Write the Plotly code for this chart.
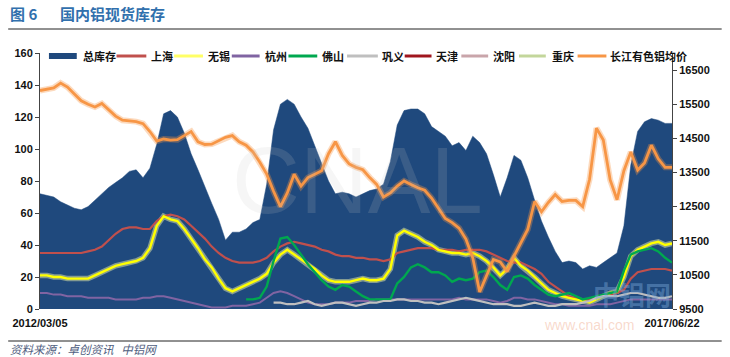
import plotly.graph_objects as go
import pandas as pd

# ---------------- data ----------------
start_date = "2012-03-05"
end_date = "2017-06-22"
n_points = 93
dates = pd.date_range(start_date, end_date, periods=n_points)

total_stock = [72, 71, 70, 67, 65, 63, 62, 64, 68, 72,
               76, 79, 82, 86, 87, 82, 88, 103, 122, 124,
               120, 110, 97, 87, 76, 66, 56, 43, 48, 48,
               50, 54, 56, 78, 112, 128, 131, 128, 120, 113,
               102, 91, 80, 72, 73, 72, 70, 72, 74, 75,
               78, 92, 115, 124, 125, 125, 122, 114, 111, 108,
               102, 104, 99, 108, 104, 97, 84, 70, 82, 96,
               93, 82, 68, 55, 45, 36, 29, 30, 29, 25,
               27, 26, 29, 32, 35, 52, 90, 111, 117, 119,
               118, 116, 116]

shanghai = [35, 35, 35, 35, 35, 35, 35, 36, 37, 39,
            43, 47, 50, 51, 51, 50, 50, 55, 58, 59,
            58, 56, 52, 48, 44, 39, 35, 32, 30, 29,
            29, 29, 30, 32, 36, 39, 41, 42, 41, 40,
            39, 37, 36, 34, 33, 33, 32, 32, 31, 31,
            30, 31, 35, 36, 37, 38, 38, 38, 37, 37,
            37, 36, 37, 37, 37, 36, 34, 32, 30, 29,
            29, 27, 25, 22, 17, 14, 11, 8, 7, 6,
            6, 7, 8, 9, 10, 12, 19, 23, 24, 25,
            25, 25, 24]

wuxi = [21, 21, 20, 20, 19, 19, 19, 19, 21, 23,
        25, 27, 28, 29, 30, 32, 38, 52, 58, 56,
        55, 50, 44, 38, 31, 26, 19, 13, 11, 13,
        15, 17, 19, 22, 29, 34, 37, 34, 31, 28,
        25, 21, 18, 17, 17, 17, 18, 19, 18, 18,
        19, 25, 46, 49, 47, 45, 42, 40, 37, 36,
        35, 35, 34, 35, 33, 30, 26, 21, 25, 32,
        27, 24, 20, 16, 12, 10, 8, 7, 6, 5,
        4, 6, 8, 10, 11, 20, 33, 37, 39, 41,
        42, 40, 41]

hangzhou = [10, 10, 9, 9, 8, 8, 8, 7, 7, 7,
            7, 6, 6, 6, 6, 7, 7, 8, 8, 7,
            6, 5, 4, 3, 2, 1, 1, 1, 2, 2,
            2, 3, 4, 7, 10, 11, 10, 8, 6, 4,
            3, 3, 3, 4, 4, 4, 5, 5, 5, 6,
            6, 6, 6, 6, 6, 6, 6, 6, 6, 6,
            6, 7, 6, 6, 6, 6, 5, 4, 5, 7,
            7, 6, 6, 5, 4, 3, 3, 2, 2, 2,
            2, 3, 3, 3, 4, 5, 6, 6, 6, 6,
            6, 6, 6]

foshan = [None] * 30 + [6, 6, 7, 14, 30, 44, 45, 40, 34, 28,
                        23, 18, 14, 12, 15, 14, 11, 8, 6, 6,
                        6, 6, 16, 20, 26, 28, 26, 23, 23, 21,
                        17, 19, 18, 19, 23, 24, 20, 15, 12, 20,
                        21, 19, 15, 12, 9, 8, 9, 10, 8, 6,
                        7, 8, 9, 10, 11, 24, 34, 36, 37, 38,
                        36, 32, 29]

gongyi = [None] * 34 + [4, 4, 3, 3, 4, 5, 3, 2, 3, 4,
                        4, 3, 2, 3, 4, 4, 5, 5, 6, 6,
                        5, 5, 4, 4, 3, 4, 5, 6, 7, 6,
                        5, 4, 3, 3, 3, 2, 2, 3, 4, 3,
                        2, 2, 3, 3, 3, 4, 5, 7, 8, 8,
                        8, 9, 10, 10, 9, 8, 7, 7, 8]

tianjin = [None] * n_points
shenyang = [None] * n_points
chongqing = [None] * n_points

al_price = [15900, 15950, 15980, 16120, 16000, 15800, 15600, 15500, 15420, 15520,
            15320, 15150, 15030, 15020, 14990, 14930, 14700, 14420, 14480, 14450,
            14460, 14580, 14700, 14400, 14320, 14330, 14420, 14530, 14580, 14400,
            14300, 14100, 13800, 13450, 12950, 12500, 12900, 13450, 13100, 13350,
            13450, 13550, 14050, 14400, 14000, 13750, 13650, 13580, 13350, 13150,
            12780, 12900, 13100, 13250, 13150, 13050, 12980, 12750, 12450, 12150,
            12030, 11870, 11550, 11000, 10000, 10500, 10950, 10880, 10600, 11050,
            11450, 11830, 12650, 12350, 12620, 12850, 12650, 12680, 12680, 12500,
            13300, 14800, 14450, 13280, 12700, 13550, 14100, 13570, 13780, 14300,
            13900, 13650, 13650]

left_ticks = [0, 20, 40, 60, 80, 100, 120, 140, 160]
right_ticks = [9500, 10500, 11500, 12500, 13500, 14500, 15500, 16500]
x_tick_labels = ["2012/03/05", "2017/06/22"]

# ---------------- styling ----------------
W, H = 730, 357
PL, PR, PT, PB = 36, 672, 53, 309  # plot area in pixels
CJK = "Noto Sans CJK SC"
NUM = "Liberation Sans"

C_AREA = "#1f497d"
C_SH = "#c0504d"
C_WX = "#ffff00"
C_HZ = "#8064a2"
C_FS = "#00a84f"
C_GY = "#bfbfbf"
C_TJ = "#a0161e"
C_SY = "#c9a5aa"
C_CQ = "#c3d69b"
C_PR = "#f79646"


def xp(px):
    return (px - PL) / (PR - PL)


def yp(py):
    return (PB - py) / (PB - PT)


fig = go.Figure()

fig.add_trace(go.Scatter(x=dates, y=total_stock, name="总库存", mode="lines",
                         line=dict(width=0.5, color=C_AREA), fill="tozeroy",
                         fillcolor=C_AREA, showlegend=False))

# soft glow under yellow line
fig.add_trace(go.Scatter(x=dates, y=wuxi, mode="lines", hoverinfo="skip",
                         line=dict(width=5.5, color="rgba(255,255,170,0.45)"),
                         showlegend=False))

line_series = [
    ("上海", shanghai, C_SH, 2.2),
    ("无锡", wuxi, C_WX, 2.4),
    ("杭州", hangzhou, C_HZ, 2.0),
    ("佛山", foshan, C_FS, 2.4),
    ("巩义", gongyi, C_GY, 2.2),
    ("天津", tianjin, C_TJ, 2.0),
    ("沈阳", shenyang, C_SY, 2.0),
    ("重庆", chongqing, C_CQ, 2.0),
]
for name, vals, col, w in line_series:
    fig.add_trace(go.Scatter(x=dates, y=vals, name=name, mode="lines",
                             line=dict(width=w, color=col), showlegend=False))

fig.add_trace(go.Scatter(x=dates, y=al_price, mode="lines", yaxis="y2", hoverinfo="skip",
                         line=dict(width=6, color="rgba(247,150,70,0.35)"),
                         showlegend=False))
fig.add_trace(go.Scatter(x=dates, y=al_price, name="长江有色铝均价", mode="lines",
                         yaxis="y2", line=dict(width=2.8, color=C_PR), showlegend=False))

# ---------------- manual legend ----------------
legend_items = [
    ("总库存", C_AREA, "bar", 45, 73, 77),
    ("上海", C_SH, "line", 113, 143, 146),
    ("无锡", "#ffff66", "line", 171, 200, 203),
    ("杭州", C_HZ, "line", 229, 257, 260),
    ("佛山", C_FS, "line", 286, 315, 318),
    ("巩义", C_GY, "line", 345, 376, 378),
    ("天津", C_TJ, "line", 403, 430, 432),
    ("沈阳", C_SY, "line", 460, 487, 490),
    ("重庆", C_CQ, "line", 518, 545, 549),
    ("长江有色铝均价", C_PR, "line", 577, 606, 608),
]
LEG_Y = 56
shapes = []
annotations = []
for label, col, kind, x0, x1, xt in legend_items:
    if kind == "bar":
        shapes.append(dict(type="rect", xref="paper", yref="paper",
                           x0=xp(x0), x1=xp(x1), y0=yp(LEG_Y + 3), y1=yp(LEG_Y - 3),
                           fillcolor=col, line=dict(width=0)))
    else:
        shapes.append(dict(type="line", xref="paper", yref="paper",
                           x0=xp(x0), x1=xp(x1), y0=yp(LEG_Y), y1=yp(LEG_Y),
                           line=dict(color=col, width=3)))
    annotations.append(dict(text="<b>%s</b>" % label, xref="paper", yref="paper",
                            x=xp(xt), y=yp(LEG_Y), xanchor="left", yanchor="middle",
                            showarrow=False, font=dict(family=CJK, size=11, color="#111")))

# title, rules and source
annotations += [
    dict(text="<b>图 6</b>", xref="paper", yref="paper", x=xp(4), y=yp(13),
         xanchor="left", yanchor="middle", showarrow=False,
         font=dict(family=CJK, size=15, color="#3170ad")),
    dict(text="<b>国内铝现货库存</b>", xref="paper", yref="paper", x=xp(54), y=yp(13),
         xanchor="left", yanchor="middle", showarrow=False,
         font=dict(family=CJK, size=15, color="#3170ad")),
    dict(text="<i>资料来源：卓创资讯   中铝网</i>", xref="paper", yref="paper",
         x=xp(4), y=yp(349), xanchor="left", yanchor="middle", showarrow=False,
         font=dict(family=CJK, size=11.5, color="#4f5d7e")),
    # watermarks
    dict(text="CNAL", xref="paper", yref="paper", x=xp(356), y=yp(180),
         xanchor="center", yanchor="middle", showarrow=False,
         font=dict(family=NUM, size=94, color="rgba(200,200,200,0.16)")),
    dict(text="<b>中铝网</b>", xref="paper", yref="paper", x=xp(632), y=yp(293),
         xanchor="center", yanchor="middle", showarrow=False,
         font=dict(family=CJK, size=26, color="rgba(120,165,215,0.45)")),
    dict(text="www.cnal.com", xref="paper", yref="paper", x=xp(636), y=yp(325),
         xanchor="right", yanchor="middle", showarrow=False,
         font=dict(family=NUM, size=14, color="rgba(240,170,140,0.45)")),
]
shapes += [
    dict(type="line", xref="paper", yref="paper", x0=xp(4), x1=xp(722),
         y0=yp(29), y1=yp(29), line=dict(color="#222", width=1)),
    dict(type="line", xref="paper", yref="paper", x0=xp(4), x1=xp(722),
         y0=yp(341), y1=yp(341), line=dict(color="#222", width=1)),
]

fig.update_layout(
    width=W, height=H,
    margin=dict(l=PL, r=W - PR, t=PT, b=H - PB),
    paper_bgcolor="white", plot_bgcolor="white",
    showlegend=False,
    shapes=shapes, annotations=annotations,
    xaxis=dict(range=[dates[0], dates[-1]], tickvals=[dates[0], dates[-1]],
               ticktext=["<b>%s</b>" % t for t in x_tick_labels],
               showgrid=False, zeroline=False, showline=False, ticks="",
               ticklabelstandoff=6,
               tickfont=dict(family=NUM, size=11, color="#111")),
    yaxis=dict(range=[0, 160], tickvals=left_ticks,
               ticktext=["<b>%d</b>" % v for v in left_ticks],
               showgrid=False, zeroline=False, showline=True, linecolor="#444",
               linewidth=1, ticks="outside", ticklen=4, tickcolor="#444",
               tickfont=dict(family=NUM, size=11, color="#111")),
    yaxis2=dict(range=[9500, 17000], tickvals=right_ticks,
                ticktext=["<b>%d</b>" % v for v in right_ticks],
                overlaying="y", side="right", anchor="x",
                showgrid=False, zeroline=False, showline=True, linecolor="#444",
                linewidth=1, ticks="outside", ticklen=4, tickcolor="#444",
                tickfont=dict(family=NUM, size=11, color="#111")),
)

fig.write_html("out.html", config={"displayModeBar": False},
               post_script="document.body.style.margin='0';document.body.style.overflow='hidden';")
